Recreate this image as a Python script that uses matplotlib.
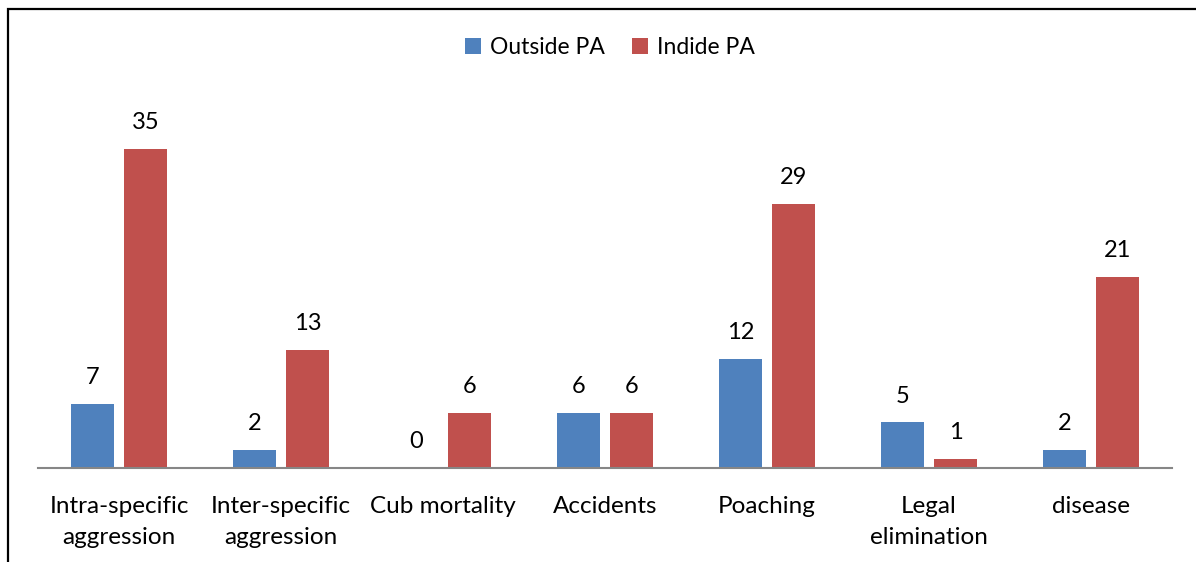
import matplotlib
matplotlib.use("Agg")
import matplotlib.pyplot as plt
from matplotlib.patches import Rectangle
import numpy as np

categories = ["Intra-specific\naggression", "Inter-specific\naggression", "Cub mortality",
              "Accidents", "Poaching", "Legal\nelimination", "disease"]
outside_pa = [7, 2, 0, 6, 12, 5, 2]
inside_pa = [35, 13, 6, 6, 29, 1, 21]
series_names = ["Outside PA", "Indide PA"]
colors = ["#4F81BD", "#C0504D"]

plt.rcParams['font.family'] = ['Lato', 'DejaVu Sans']

W, H = 1196, 562
fig = plt.figure(figsize=(W / 100, H / 100), dpi=100)
ax = fig.add_axes([38 / W, (H - 468) / H, (1172 - 38) / W, 364.5 / H])

x = np.arange(len(categories))
bw = 0.265
b1 = ax.bar(x - 0.165, outside_pa, bw, color=colors[0], label=series_names[0])
b2 = ax.bar(x + 0.165, inside_pa, bw, color=colors[1], label=series_names[1])

for bars, vals in ((b1, outside_pa), (b2, inside_pa)):
    for r, v in zip(bars, vals):
        ax.annotate(str(v), (r.get_x() + r.get_width() / 2, v), xytext=(0, 19),
                    textcoords="offset points", ha="center", va="center",
                    fontsize=17, color="black")

ax.set_xlim(-0.5, len(categories) - 0.5)
ax.set_ylim(0, 40)
ax.set_xticks(x)
ax.set_xticklabels(categories, fontsize=17.5, linespacing=1.62)
ax.tick_params(axis="x", length=0, pad=20)
ax.set_yticks([])
for s in ["top", "right", "left"]:
    ax.spines[s].set_visible(False)
ax.spines["bottom"].set_color("#868686")
ax.spines["bottom"].set_linewidth(1.5)

leg = fig.legend(handles=[b1, b2], labels=series_names, loc="center",
                 bbox_to_anchor=(610 / W, 1 - 48 / H), ncol=2, frameon=False,
                 fontsize=16.5, handlelength=0.7, handleheight=0.7,
                 handletextpad=0.4, columnspacing=1.2)

frame = Rectangle((8 / W, -0.1), 1.2, 1 - 9 / H + 0.1, transform=fig.transFigure,
                  fill=False, edgecolor="black", linewidth=1.6, clip_on=False)
fig.add_artist(frame)

fig.savefig("out.png", dpi=100)
